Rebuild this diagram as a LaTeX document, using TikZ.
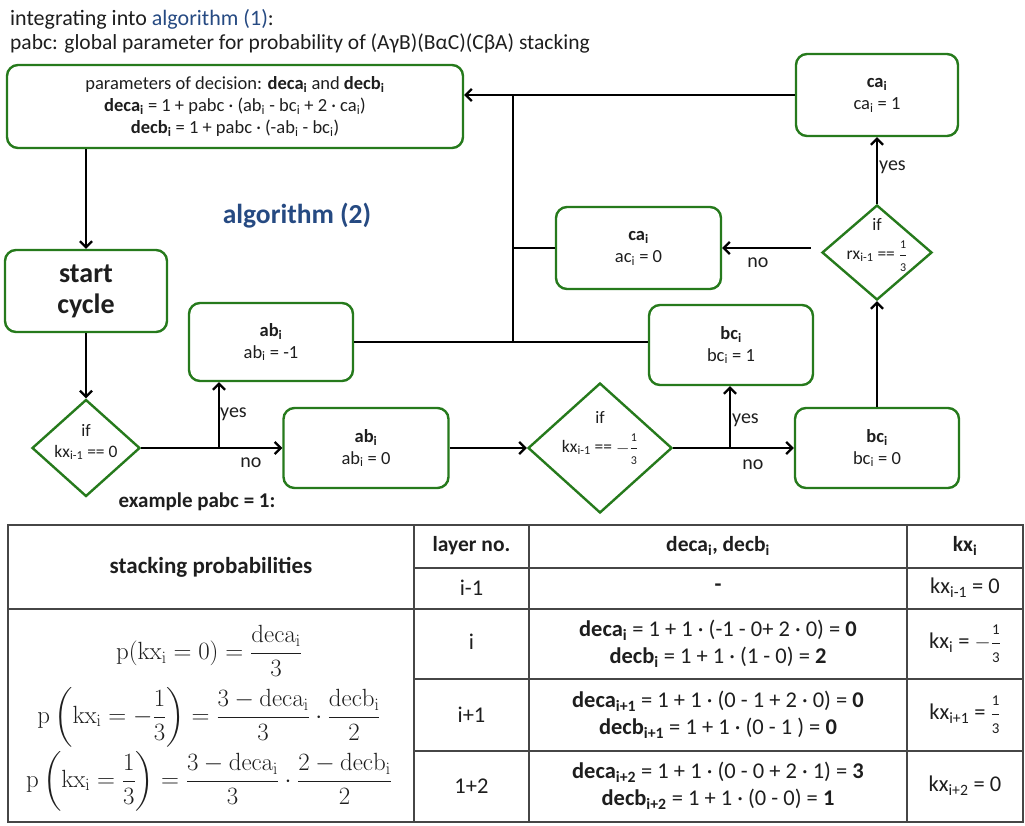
\documentclass[tikz,border=0pt]{standalone}
\usepackage[no-math]{fontspec}
\usepackage{amsmath}
\setmainfont{Carlito}
\usetikzlibrary{shapes.geometric,arrows.meta}
\definecolor{boxgreen}{RGB}{38,122,28}
\definecolor{titleblue}{RGB}{38,74,130}
\definecolor{ink}{RGB}{30,30,30}
\definecolor{rulegray}{RGB}{70,70,70}
\newcommand\sbs[1]{\textsubscript{#1}}
% small stacked fraction in text font: size, numerator, denominator
\newcommand\fr[3]{$\genfrac{}{}{0.5pt}{0}{\mbox{\fontsize{#1}{#1}\selectfont #2}}{\mbox{\fontsize{#1}{#1}\selectfont #3}}$}

\begin{document}
\begin{tikzpicture}[x=1pt,y=-1pt,
  every node/.style={text=ink, inner sep=0pt},
  procbox/.style={draw=boxgreen, line width=2.4pt, rounded corners=11pt, fill=white,
    align=center, font=\fontsize{18.5}{22}\selectfont},
  decision/.style={diamond, aspect=1, draw=boxgreen, line width=2.4pt},
  dtext/.style={align=center, font=\fontsize{17.5}{21}\selectfont},
  flow/.style={line width=2.3pt, draw=black, -{Straight Barb[length=6pt,width=12pt]}},
  link/.style={line width=2.3pt, draw=black},
  lbl/.style={font=\fontsize{20}{22}\selectfont},
  grid/.style={line width=1.9pt, draw=rulegray},
  cell/.style={align=center, font=\fontsize{22.5}{27}\selectfont},
  headcell/.style={align=center, font=\bfseries\fontsize{21.5}{26}\selectfont},
  formula/.style={font=\fontsize{23.5}{26}\selectfont},
]
\useasboundingbox (0,0) rectangle (1025,825);

% heading
\node[anchor=west, font=\fontsize{22}{26}\selectfont] (head1) at (10,19)
  {integrating into \textcolor{titleblue}{algorithm (1)}:};
\node[anchor=west, font=\fontsize{21.5}{26}\selectfont] (head2) at (10,43)
  {pabc: global parameter for probability of (AγB)(BαC)(CβA) stacking};
\node[font=\bfseries\fontsize{27.5}{30}\selectfont, text=titleblue] (algo2) at (297,216)
  {algorithm (2)};

% process boxes
\node[procbox, minimum width=456pt, minimum height=83pt] (decide) at (235,106.5)
  {parameters of decision: \textbf{deca\sbs{i}} and \textbf{decb\sbs{i}}\\
   \textbf{deca\sbs{i}} = 1 + pabc · (ab\sbs{i} - bc\sbs{i} + 2 · ca\sbs{i})\\
   \textbf{decb\sbs{i}} = 1 + pabc · (-ab\sbs{i} - bc\sbs{i})};
\node[procbox, minimum width=162pt, minimum height=82pt,
  font=\bfseries\fontsize{28}{31}\selectfont] (start) at (86,291) {start\\cycle};
\node[procbox, minimum width=164pt, minimum height=78pt] (abm) at (271,342)
  {\textbf{ab\sbs{i}}\\ab\sbs{i} = -1};
\node[procbox, minimum width=165pt, minimum height=80pt] (abz) at (366,448)
  {\textbf{ab\sbs{i}}\\ab\sbs{i} = 0};
\node[procbox, minimum width=164pt, minimum height=80pt] (bcp) at (731,345)
  {\textbf{bc\sbs{i}}\\bc\sbs{i} = 1};
\node[procbox, minimum width=164pt, minimum height=80pt] (bcz) at (877,448)
  {\textbf{bc\sbs{i}}\\bc\sbs{i} = 0};
\node[procbox, minimum width=165pt, minimum height=82pt] (caz) at (638.5,248)
  {\textbf{ca\sbs{i}}\\ac\sbs{i} = 0};
\node[procbox, minimum width=162pt, minimum height=82pt] (cap) at (877,95)
  {\textbf{ca\sbs{i}}\\ca\sbs{i} = 1};

% decisions
\node[decision, minimum width=108pt, minimum height=97pt] (d1) at (86,448) {};
\node[dtext] (d1t) at (86,442) {if\\kx\sbs{i-1} == 0};
\node[decision, minimum width=144pt, minimum height=130pt] (d2) at (600,448) {};
\node[dtext, font=\fontsize{17.5}{29}\selectfont] (d2t) at (600,438)
  {if\\kx\sbs{i-1} == \raisebox{-1pt}{$-$\fr{12}{1}{3}}};
\node[decision, minimum width=110pt, minimum height=95pt] (d3) at (877,252.5) {};
\node[dtext, font=\fontsize{17.5}{29}\selectfont] (d3t) at (877,245)
  {if\\rx\sbs{i-1} == \raisebox{-1pt}{\fr{12}{1}{3}}};

% connectors
\draw[flow] (start.north |- decide.south) -- (start.north);
\draw[flow] (start) -- (d1);
\draw[flow] (d1.east) -- (abz.west);
\coordinate (forkA) at (219,448);
\draw[flow] (forkA) -- (forkA |- abm.south);
\draw[flow] (abz.east) -- (d2.west);
\draw[flow] (d2.east) -- (bcz.west);
\coordinate (forkB) at (730,448);
\draw[flow] (forkB) -- (forkB |- bcp.south);
\draw[flow] (bcz.north) -- (d3.south);
\draw[flow] (d3.north) -- (cap.south);
\draw[flow] ([xshift=-10pt]d3.west |- caz.east) -- (caz.east);
\draw[flow] (cap.west) -- (cap.west -| decide.east);
\coordinate (busT) at (513,95);
\coordinate (busB) at (513,342);
\draw[link] (abm.east) -- (abm.east -| bcp.west);
\draw[link] (busB) -- (busT);
\draw[link] (caz.west) -- (caz.west -| busT);

% branch labels
\node[lbl, anchor=west] (yesA) at (220,414) {yes};
\node[lbl] (noA) at (251,463) {no};
\node[lbl, anchor=west] (yesB) at (732,420) {yes};
\node[lbl] (noB) at (753,465) {no};
\node[lbl, anchor=west] (yesC) at (879,167) {yes};
\node[lbl] (noC) at (758,263) {no};

\node[font=\bfseries\fontsize{21}{24}\selectfont] (example) at (197,502) {example pabc = 1:};

% table
\draw[grid] (8,525) rectangle (1023,822);
\draw[grid] (414,525) -- (414,822);
\draw[grid] (529,525) -- (529,822);
\draw[grid] (907,525) -- (907,822);
\draw[grid] (414,568) -- (1023,568);
\draw[grid] (8,609) -- (1023,609);
\draw[grid] (414,679) -- (1023,679);
\draw[grid] (414,751) -- (1023,751);

\node[headcell, font=\bfseries\fontsize{23}{26}\selectfont] (hprob) at (211,567) {stacking probabilities};
\node[headcell] (hlayer) at (471.5,546) {layer no.};
\node[headcell] (hdec) at (718,546) {deca\sbs{i}, decb\sbs{i}};
\node[headcell] (hkx) at (965,546) {kx\sbs{i}};

\node[cell] (l0) at (471.5,588) {i-1};
\node[cell] (c0) at (718,588) {\textbf{-}};
\node[cell] (k0) at (965,588) {kx\sbs{i-1} = 0};

\node[cell] (l1) at (471.5,642) {i};
\node[cell] (c1) at (718,644)
  {\textbf{deca\sbs{i}} = 1 + 1 · (-1 - 0+ 2 · 0) = \textbf{0}\\
   \textbf{decb\sbs{i}} = 1 + 1 · (1 - 0) = \textbf{2}};
\node[cell] (k1) at (965,644) {kx\sbs{i} = $-$\fr{15}{1}{3}};

\node[cell] (l2) at (471.5,715) {i+1};
\node[cell] (c2) at (718,715)
  {\textbf{deca\sbs{i+1}} = 1 + 1 · (0 - 1 + 2 · 0) = \textbf{0}\\
   \textbf{decb\sbs{i+1}} = 1 + 1 · (0 - 1 ) = \textbf{0}};
\node[cell] (k2) at (965,715) {kx\sbs{i+1} = \fr{15}{1}{3}};

\node[cell] (l3) at (471.5,786) {1+2};
\node[cell] (c3) at (718,786)
  {\textbf{deca\sbs{i+2}} = 1 + 1 · (0 - 0 + 2 · 1) = \textbf{3}\\
   \textbf{decb\sbs{i+2}} = 1 + 1 · (0 - 0) = \textbf{1}};
\node[cell] (k3) at (965,786) {kx\sbs{i+2} = 0};

\node[formula] (p0) at (209,651)
  {$\mathrm{p}(\mathrm{kx}_\mathrm{i} = 0) = \dfrac{\mathrm{deca}_\mathrm{i}}{3}$};
\node[formula] (pm) at (209,717)
  {$\mathrm{p}\left(\mathrm{kx}_\mathrm{i} = -\dfrac{1}{3}\right) = \dfrac{3-\mathrm{deca}_\mathrm{i}}{3}\cdot\dfrac{\mathrm{decb}_\mathrm{i}}{2}$};
\node[formula] (pp) at (209,781)
  {$\mathrm{p}\left(\mathrm{kx}_\mathrm{i} = \dfrac{1}{3}\right) = \dfrac{3-\mathrm{deca}_\mathrm{i}}{3}\cdot\dfrac{2-\mathrm{decb}_\mathrm{i}}{2}$};
\end{tikzpicture}
\end{document}
